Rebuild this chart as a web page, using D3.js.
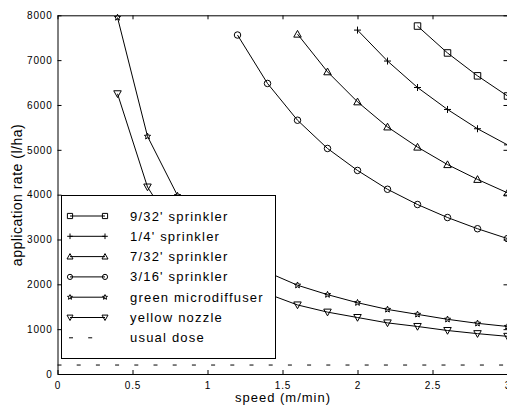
<!DOCTYPE html>
<html>
<head>
<meta charset="utf-8">
<script src="https://cdn.jsdelivr.net/npm/d3@7"></script>
<style>
  body { margin: 0; background: #fff; }
  svg { display: block; font-family: "Liberation Sans", Arial, sans-serif; }
  .tick text { font-size: 10px; letter-spacing: 0.8px; }
</style>
</head>
<body>
<svg id="chart" width="507" height="410"></svg>
<script>
// values
var sprinkler932X = [2.4, 2.6, 2.8, 3.0];
var sprinkler932Y = [7760, 7160, 6650, 6200];
var sprinkler14X = [2.0, 2.2, 2.4, 2.6, 2.8, 3.0];
var sprinkler14Y = [7670, 6980, 6390, 5900, 5470, 5110];
var sprinkler732X = [1.6, 1.8, 2.0, 2.2, 2.4, 2.6, 2.8, 3.0];
var sprinkler732Y = [7580, 6740, 6070, 5510, 5060, 4670, 4340, 4040];
var sprinkler316X = [1.2, 1.4, 1.6, 1.8, 2.0, 2.2, 2.4, 2.6, 2.8, 3.0];
var sprinkler316Y = [7560, 6480, 5660, 5030, 4540, 4120, 3780, 3490, 3240, 3020];
var microX = [0.4, 0.6, 0.8, 1.0, 1.2, 1.4, 1.6, 1.8, 2.0, 2.2, 2.4, 2.6, 2.8, 3.0];
var microY = [7950, 5300, 3980, 3180, 2650, 2270, 1980, 1770, 1590, 1440, 1330, 1220, 1130, 1060];
var nozzleX = [0.4, 0.6, 0.8, 1.0, 1.2, 1.4, 1.6, 1.8, 2.0, 2.2, 2.4, 2.6, 2.8, 3.0];
var nozzleY = [6250, 4170, 3120, 2500, 2080, 1790, 1540, 1380, 1260, 1140, 1060, 970, 900, 840];
var usualDose = 200;

var xTicks = [0, 0.5, 1, 1.5, 2, 2.5, 3];
var yTicks = [0, 1000, 2000, 3000, 4000, 5000, 6000, 7000, 8000];
var legendNames = ["9/32' sprinkler", "1/4' sprinkler", "7/32' sprinkler", "3/16' sprinkler",
                   "green microdiffuser", "yellow nozzle", "usual dose"];

var series = [
  {x: sprinkler932X, y: sprinkler932Y, mark: "square"},
  {x: sprinkler14X, y: sprinkler14Y, mark: "plus"},
  {x: sprinkler732X, y: sprinkler732Y, mark: "triup"},
  {x: sprinkler316X, y: sprinkler316Y, mark: "circle"},
  {x: microX, y: microY, mark: "star"},
  {x: nozzleX, y: nozzleY, mark: "tridown"}
];

var svg = d3.select("#chart");
var pLeft = 57.5, pRight = 507.5, pTop = 15.3, pBottom = 374;

var x = d3.scaleLinear().domain([0, 3]).range([pLeft, pRight]);
var y = d3.scaleLinear().domain([0, 8000]).range([pBottom, pTop]);

function markPath(type, s){
  var h = s / 2;
  if(type == "square")
    return "M" + (-h) + "," + (-h) + "h" + s + "v" + s + "h" + (-s) + "Z";
  if(type == "plus")
    return "M" + (-h) + ",0H" + h + "M0," + (-h) + "V" + h;
  if(type == "triup")
    return "M0," + (-h) + "L" + h + "," + (h * 0.8) + "L" + (-h) + "," + (h * 0.8) + "Z";
  if(type == "tridown")
    return "M0," + h + "L" + h + "," + (-h * 0.8) + "L" + (-h) + "," + (-h * 0.8) + "Z";
  if(type == "circle")
    return "M" + h + ",0A" + h + "," + h + " 0 1,1 " + (-h) + ",0A" + h + "," + h + " 0 1,1 " + h + ",0Z";
  if(type == "star"){
    var p = [];
    for(var i = 0; i < 10; i++){
      var r = (i % 2 == 0) ? h : h * 0.45;
      var a = -Math.PI / 2 + i * Math.PI / 5;
      p.push([r * Math.cos(a), r * Math.sin(a)]);
    }
    return "M" + p.join("L") + "Z";
  }
  return "";
}
var markSize = {square: 6.5, plus: 7, triup: 7.5, tridown: 7.5, circle: 6.5, star: 6.5};

// curves
var line = d3.line().x(function(d){ return x(d[0]); }).y(function(d){ return y(d[1]); });

series.forEach(function(s){
  var pts = s.x.map(function(v, i){ return [v, s.y[i]]; });
  svg.append("path").attr("d", line(pts))
    .attr("fill", "none").attr("stroke", "#000").attr("stroke-width", 1);
  svg.selectAll(null).data(pts).enter().append("path")
    .attr("transform", function(d){ return "translate(" + x(d[0]) + "," + y(d[1]) + ")"; })
    .attr("d", markPath(s.mark, markSize[s.mark]))
    .attr("fill", "none").attr("stroke", "#000").attr("stroke-width", 1);
});

// usual dose
svg.append("line")
  .attr("x1", x(0)).attr("x2", x(3)).attr("y1", y(usualDose)).attr("y2", y(usualDose))
  .attr("stroke", "#000").attr("stroke-width", 1).attr("stroke-dasharray", "4,15.2");

// axes, ticks inward
var gx = svg.append("g").attr("transform", "translate(0," + pBottom + ")")
  .call(d3.axisBottom(x).tickValues(xTicks).tickSizeInner(-4).tickSizeOuter(0).tickPadding(8)
    .tickFormat(d3.format("")));
var gy = svg.append("g").attr("transform", "translate(" + pLeft + ",0)")
  .call(d3.axisLeft(y).tickValues(yTicks).tickSizeInner(-4).tickSizeOuter(0).tickPadding(5)
    .tickFormat(d3.format("d")));
var gt = svg.append("g").attr("transform", "translate(0," + pTop + ")")
  .call(d3.axisTop(x).tickValues(xTicks).tickSizeInner(-4).tickSizeOuter(0).tickFormat(""));
var gr = svg.append("g").attr("transform", "translate(" + pRight + ",0)")
  .call(d3.axisRight(y).tickValues(yTicks).tickSizeInner(-4).tickSizeOuter(0).tickFormat(""));
[gx, gy, gt, gr].forEach(function(g){
  g.selectAll("path, line").attr("stroke", "#000").attr("stroke-width", 1);
  g.selectAll("text").attr("fill", "#000");
});

// axis titles
svg.append("text").attr("x", 283).attr("y", 402).attr("text-anchor", "middle")
  .style("font-size", "13px").style("letter-spacing", "1px").text("speed (m/min)");
svg.append("text").attr("transform", "translate(22,195) rotate(-90)").attr("text-anchor", "middle")
  .style("font-size", "14px").style("letter-spacing", "0.5px").text("application rate (l/ha)");

// legend
var legend = svg.append("g");
legend.append("rect").attr("x", 61.5).attr("y", 195.5).attr("width", 214).attr("height", 163)
  .attr("fill", "#fff").attr("stroke", "#000").attr("stroke-width", 1);
legendNames.forEach(function(name, i){
  var ly = 216 + i * 20.3;
  if(i < series.length){
    legend.append("line").attr("x1", 70).attr("x2", 105).attr("y1", ly).attr("y2", ly)
      .attr("stroke", "#000").attr("stroke-width", 1);
    [70, 105].forEach(function(lx){
      legend.append("path").attr("transform", "translate(" + lx + "," + ly + ")")
        .attr("d", markPath(series[i].mark, markSize[series[i].mark] * 0.8))
        .attr("fill", "none").attr("stroke", "#000").attr("stroke-width", 1);
    });
  }else{
    legend.append("line").attr("x1", 68).attr("x2", 107).attr("y1", ly).attr("y2", ly)
      .attr("stroke", "#000").attr("stroke-width", 1).attr("stroke-dasharray", "4,15.2")
      .attr("stroke-dashoffset", -1);
  }
  legend.append("text").attr("x", 130).attr("y", ly + 4.5)
    .style("font-size", "13px").style("letter-spacing", "1.2px").text(name);
});
</script>
</body>
</html>
